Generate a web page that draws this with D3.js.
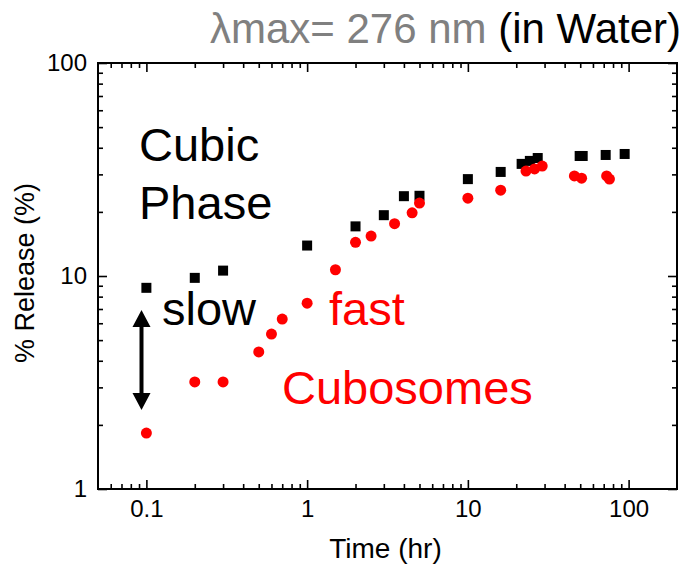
<!DOCTYPE html>
<html><head><meta charset="utf-8">
<script src="https://cdn.jsdelivr.net/npm/d3@7"></script>
<style>
body{margin:0;background:#fff;}
svg{font-family:"Liberation Sans",Arial,sans-serif;}
</style></head>
<body>
<svg id="c" width="685" height="566"></svg>
<script>
// ---- data ----
const cubicTime = [0.1,0.2,0.3,1,2,3,4,5,10,16,21.6,24.3,27.2,49.6,51.8,72,94.5];
const cubicRelease = [8.8,9.8,10.6,13.9,17.1,19.3,23.7,23.8,28.5,30.8,33.6,34.7,35.8,36.6,36.6,37.0,37.4];
const cuboTime = [0.1,0.2,0.3,0.5,0.6,0.7,1,1.5,2,2.5,3.5,4.5,5,10,16,23,26,29,46,51,73,76];
const cuboRelease = [1.83,3.18,3.18,4.4,5.34,6.28,7.45,10.7,14.4,15.4,17.6,19.8,22.0,23.2,25.3,31.1,31.8,32.8,29.5,28.8,29.5,28.5];
const xTickLabels = [0.1,1,10,100];
const yTickLabels = [1,10,100];
const xDomain = [0.05,200];
const yDomain = [1,100];

const svg = d3.select("#c");
const L=98,R=677,T=63,B=489;
const x = d3.scaleLog().domain(xDomain).range([L,R]);
const y = d3.scaleLog().domain(yDomain).range([B,T]);

const isMajor = v => Math.abs(Math.log10(v)-Math.round(Math.log10(v)))<1e-9;
const xMinor = x.ticks().filter(v=>!isMajor(v) && v>xDomain[0]*1.001 && v<xDomain[1]*0.999);
const yMinor = y.ticks().filter(v=>!isMajor(v));

function styleAxis(g){
  g.select(".domain").remove();
  g.selectAll("line").attr("stroke","#000").attr("stroke-width",1.6);
  g.selectAll("text").attr("font-size",24).attr("fill","#000");
}
const fmt = d=>String(d);
// bottom
svg.append("g").attr("transform",`translate(0,${B})`)
  .call(d3.axisBottom(x).tickValues(xTickLabels).tickFormat(fmt).tickSizeInner(-9).tickSizeOuter(0).tickPadding(11))
  .call(styleAxis);
svg.append("g").attr("transform",`translate(0,${B})`)
  .call(d3.axisBottom(x).tickValues(xMinor).tickFormat("").tickSizeInner(-5).tickSizeOuter(0))
  .call(styleAxis);
// top
svg.append("g").attr("transform",`translate(0,${T})`)
  .call(d3.axisTop(x).tickValues(xTickLabels).tickFormat("").tickSizeInner(-9).tickSizeOuter(0))
  .call(styleAxis);
svg.append("g").attr("transform",`translate(0,${T})`)
  .call(d3.axisTop(x).tickValues(xMinor).tickFormat("").tickSizeInner(-5).tickSizeOuter(0))
  .call(styleAxis);
// left
svg.append("g").attr("transform",`translate(${L},0)`)
  .call(d3.axisLeft(y).tickValues(yTickLabels).tickFormat(fmt).tickSizeInner(-9).tickSizeOuter(0).tickPadding(11))
  .call(styleAxis);
svg.append("g").attr("transform",`translate(${L},0)`)
  .call(d3.axisLeft(y).tickValues(yMinor).tickFormat("").tickSizeInner(-5).tickSizeOuter(0))
  .call(styleAxis);
// right
svg.append("g").attr("transform",`translate(${R},0)`)
  .call(d3.axisRight(y).tickValues(yTickLabels).tickFormat("").tickSizeInner(-9).tickSizeOuter(0))
  .call(styleAxis);
svg.append("g").attr("transform",`translate(${R},0)`)
  .call(d3.axisRight(y).tickValues(yMinor).tickFormat("").tickSizeInner(-5).tickSizeOuter(0))
  .call(styleAxis);

// frame
svg.append("rect").attr("x",L).attr("y",T).attr("width",R-L).attr("height",B-T)
  .attr("fill","none").attr("stroke","#000").attr("stroke-width",2);

// axis titles
svg.append("text").attr("x",(L+R)/2-2).attr("y",558).attr("text-anchor","middle")
  .attr("font-size",28).text("Time (hr)");
svg.append("text").attr("transform",`translate(34,${(T+B)/2-3}) rotate(-90)`).attr("text-anchor","middle")
  .attr("font-size",27).text("% Release (%)");

// title
const title = svg.append("text").attr("x",681).attr("y",43).attr("text-anchor","end").attr("font-size",42);
title.append("tspan").attr("fill","#808080").text("\u03bbmax= 276 nm ");
title.append("tspan").attr("fill","#000").text("(in Water)");

// data
const cubic = cubicTime.map((t,i)=>({t,v:cubicRelease[i]}));
const cubo = cuboTime.map((t,i)=>({t,v:cuboRelease[i]}));
const s=10;
svg.append("g").selectAll("rect").data(cubic).join("rect")
  .attr("x",d=>x(d.t)-s/2).attr("y",d=>y(d.v)-s/2).attr("width",s).attr("height",s).attr("fill","#000");
svg.append("g").selectAll("circle").data(cubo).join("circle")
  .attr("cx",d=>x(d.t)).attr("cy",d=>y(d.v)).attr("r",5.5).attr("fill","#ff0000");

// annotations
const ann = [
  {text:"Cubic",x:139,y:161,c:"#000"},
  {text:"Phase",x:139,y:219,c:"#000"},
  {text:"slow",x:162,y:325,c:"#000"},
  {text:"fast",x:329,y:325,c:"#ff0000"},
  {text:"Cubosomes",x:282,y:404,c:"#ff0000"}
];
svg.append("g").selectAll("text").data(ann).join("text")
  .attr("x",d=>d.x).attr("y",d=>d.y).attr("fill",d=>d.c).attr("font-size",47).text(d=>d.text);

// double arrow
const ax=141.5, ay1=310, ay2=410, hw=9, hl=17;
svg.append("line").attr("x1",ax).attr("x2",ax).attr("y1",ay1+hl-2).attr("y2",ay2-hl+2)
  .attr("stroke","#000").attr("stroke-width",4);
svg.append("path").attr("d",`M${ax},${ay1}L${ax-hw},${ay1+hl}L${ax+hw},${ay1+hl}Z`).attr("fill","#000");
svg.append("path").attr("d",`M${ax},${ay2}L${ax-hw},${ay2-hl}L${ax+hw},${ay2-hl}Z`).attr("fill","#000");
</script>
</body></html>
